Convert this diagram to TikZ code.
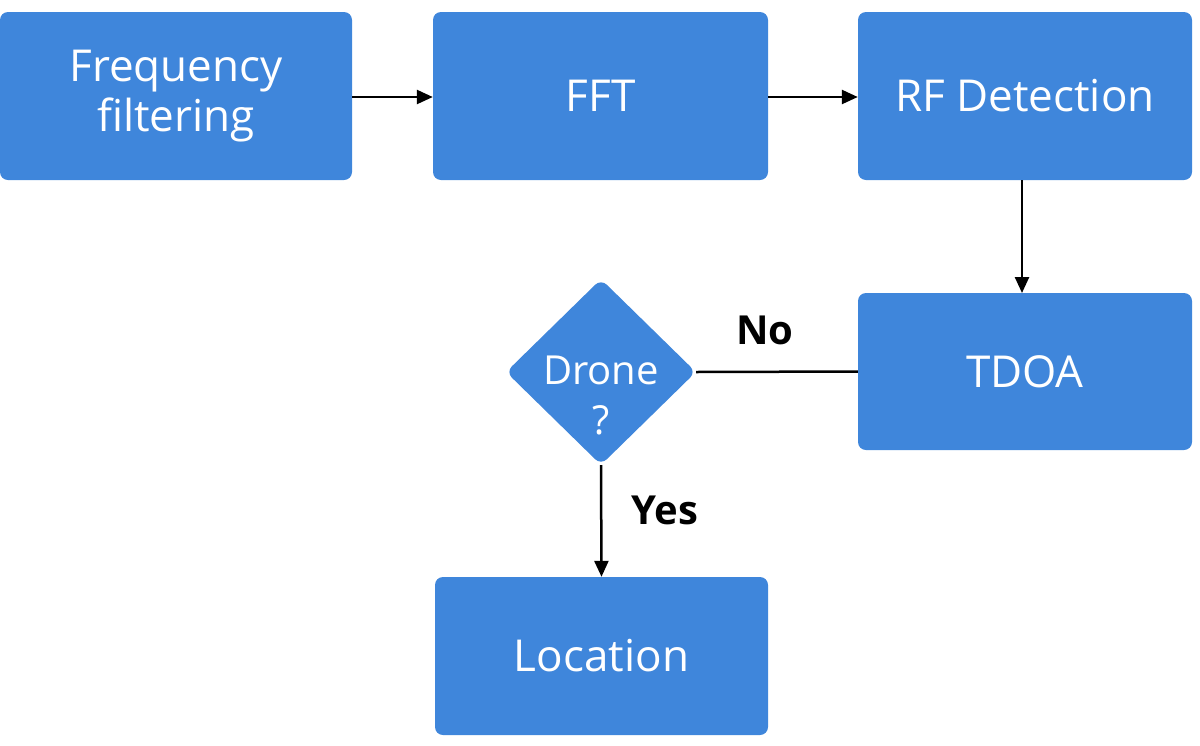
\documentclass[tikz,border=0pt]{standalone}
\usepackage{fontspec}
\setmainfont{Open Sans}
\usetikzlibrary{shapes.geometric,arrows.meta}
\definecolor{bx}{HTML}{3F86DB}
\begin{document}
\begin{tikzpicture}[x=1pt,y=-1pt,
  box/.style={fill=bx,rounded corners=8pt,text=white,font=\fontsize{44}{50}\selectfont,align=center,inner sep=0},
  arr/.style={line width=2.5pt,-{Triangle[length=16pt,width=14pt]}},
  lbl/.style={font=\fontsize{40}{46}\selectfont\bfseries}]
\useasboundingbox (0,0) rectangle (1200,745);
\node[box,minimum width=352pt,minimum height=168pt] (ff) at (176,96) {Frequency\\filtering};
\node[box,minimum width=335pt,minimum height=168pt] (fft) at (600.5,96) {FFT};
\node[box,minimum width=334pt,minimum height=168pt] (rf) at (1025,96) {RF Detection};
\node[box,minimum width=334pt,minimum height=157pt] (tdoa) at (1025,371.5) {TDOA};
\node[box,minimum width=333pt,minimum height=158pt] (loc) at (601.5,656) {Location};
\node[fill=bx,diamond,rounded corners=8pt,minimum width=190pt,minimum height=186pt,inner sep=0] (d) at (601,372) {};
\node[text=white,font=\fontsize{40}{50}\selectfont,align=center] (dt) at (601,395) {Drone\\?};
\draw[arr] (ff.east|-0,97) -- (fft.west|-0,97);
\draw[arr] (fft.east|-0,97) -- (rf.west|-0,97);
\draw[arr] (1022,180) -- (1022,293);
\draw[line width=2.5pt] (tdoa.west) -- (d.east);
\draw[arr] (d.south) -- (loc.north);
\node[lbl] (no) at (765,330) {No};
\node[lbl] (yes) at (665,510) {Yes};
\end{tikzpicture}
\end{document}
